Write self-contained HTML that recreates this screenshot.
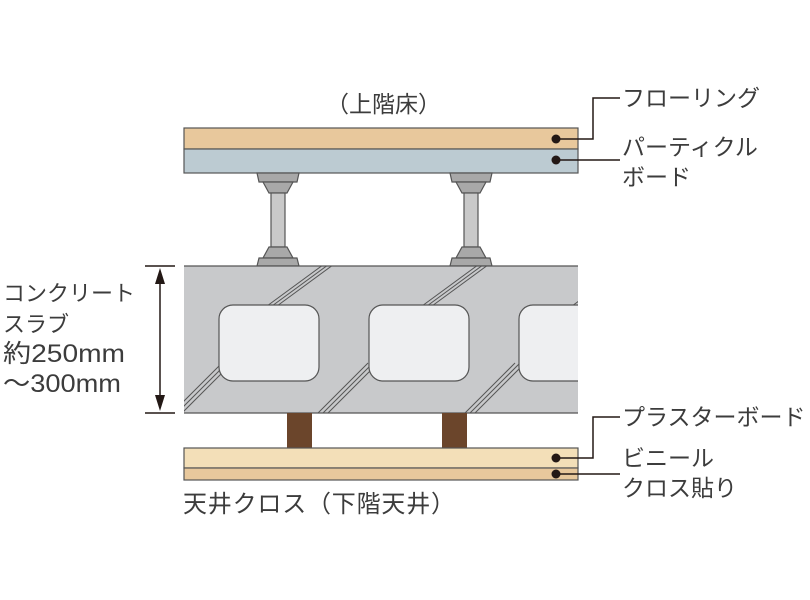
<!DOCTYPE html>
<html><head><meta charset="utf-8"><style>
html,body{margin:0;padding:0;background:#fff;}
svg{display:block}
text{font-family:"Liberation Sans","Noto Sans CJK JP",sans-serif;fill:#3c3c3c;}
</style></head><body>
<svg width="810" height="600" viewBox="0 0 810 600" xmlns="http://www.w3.org/2000/svg">
<defs>
<clipPath id="slab"><rect x="184" y="266" width="394" height="147"/></clipPath>
<g id="sup" stroke="#555" stroke-width="1.2">
<path d="M-21,173 H21 L19,182 H-19 Z" fill="#a8a8a8"/>
<path d="M-15,182 H15 L9,193 H-9 Z" fill="#a8a8a8"/>
<rect x="-7" y="193" width="14" height="54" fill="#c9c9c9"/>
<path d="M-9,247 H9 L15,258 H-15 Z" fill="#a8a8a8"/>
<path d="M-19,258 H19 L21,266 H-21 Z" fill="#a8a8a8"/>
</g>
<g id="h" stroke="#555" stroke-width="1" fill="none">
<line x1="0" y1="0" x2="60" y2="-44"/><line x1="5" y1="0" x2="65" y2="-44"/><line x1="10" y1="0" x2="70" y2="-44"/>
</g>
<g id="h2" stroke="#555" stroke-width="1" fill="none">
<line x1="0" y1="0" x2="50" y2="-50"/><line x1="5" y1="0" x2="55" y2="-50"/><line x1="10" y1="0" x2="60" y2="-50"/>
</g>
</defs>
<rect x="184" y="128" width="394" height="21" fill="#e8c89c" stroke="#555" stroke-width="1.2"/>
<rect x="184" y="149" width="394" height="24" fill="#bccbd2" stroke="#555" stroke-width="1.2"/>
<use href="#sup" x="278"/>
<use href="#sup" x="471"/>
<rect x="184" y="266" width="394" height="147" fill="#c8c9cb"/>
<g clip-path="url(#slab)">
<use href="#h" x="267" y="306"/>
<use href="#h" x="422" y="306"/>
<use href="#h" x="572" y="306"/>
<use href="#h2" x="172" y="413"/>
<use href="#h2" x="318" y="413"/>
<use href="#h2" x="465" y="413"/>
<rect x="219" y="305" width="100" height="76" rx="14" fill="#eeeff1" stroke="#555" stroke-width="1.2"/>
<rect x="369" y="305" width="100" height="76" rx="14" fill="#eeeff1" stroke="#555" stroke-width="1.2"/>
<rect x="519" y="305" width="100" height="76" rx="14" fill="#eeeff1" stroke="#555" stroke-width="1.2"/>
</g>
<line x1="184" y1="266" x2="578" y2="266" stroke="#555" stroke-width="1.2"/>
<line x1="184" y1="413" x2="578" y2="413" stroke="#555" stroke-width="1.2"/>
<rect x="287" y="413" width="25" height="35" fill="#6b452b"/>
<rect x="442" y="413" width="25" height="35" fill="#6b452b"/>
<rect x="184" y="448" width="394" height="20" fill="#f3dfb8" stroke="#555" stroke-width="1.2"/>
<rect x="184" y="468" width="394" height="12" fill="#e8c89c" stroke="#555" stroke-width="1.2"/>
<g stroke="#231815" stroke-width="1.5" fill="none">
<polyline points="556,139 593,139 593,98 620,98"/>
<line x1="556" y1="160" x2="620" y2="160"/>
<polyline points="556,458 593,458 593,417 620,417"/>
<line x1="556" y1="474" x2="620" y2="474"/>
</g>
<g fill="#231815">
<circle cx="556" cy="139" r="4.5"/><circle cx="556" cy="160" r="4.5"/>
<circle cx="556" cy="458" r="4.5"/><circle cx="556" cy="474" r="4.5"/>
</g>
<g stroke="#231815" stroke-width="1.5">
<line x1="145" y1="266" x2="175" y2="266"/><line x1="145" y1="413" x2="175" y2="413"/>
<line x1="160" y1="280" x2="160" y2="399"/>
</g>
<path d="M160,268 L155,284 H165 Z M160,411 L155,395 H165 Z" fill="#231815"/>
<text x="326" y="112" font-size="23">（上階床）</text>
<text x="622" y="106" font-size="23">フローリング</text>
<text x="622" y="155" font-size="23">パーティクル</text>
<text x="622" y="185" font-size="23">ボード</text>
<text x="622" y="425" font-size="23">プラスターボード</text>
<text x="622" y="466" font-size="23">ビニール</text>
<text x="622" y="496" font-size="23">クロス貼り</text>
<text x="3" y="301" font-size="22">コンクリート</text>
<text x="3" y="332" font-size="22">スラブ</text>
<text x="3" y="362" font-size="25" textLength="122" lengthAdjust="spacingAndGlyphs">約250mm</text>
<text x="3" y="392" font-size="25" textLength="118" lengthAdjust="spacingAndGlyphs">～300mm</text>
<text x="183" y="512" font-size="24" textLength="272">天井クロス（下階天井）</text>
</svg>
</body></html>
